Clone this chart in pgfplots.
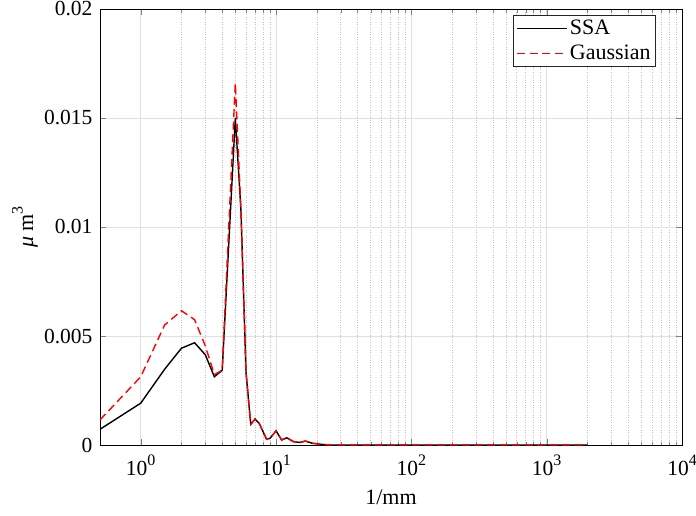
\documentclass[border=0pt]{standalone}
\usepackage{fontspec}
\setmainfont{Liberation Serif}
\newfontfamily\tnr{Liberation Serif}
\usepackage{pgfplots}
\usepackage{pgfplotstable}
\pgfplotsset{compat=1.18}

\newcommand\sexp[1]{\raisebox{0.48em}{\fontsize{16}{16}\selectfont #1}}

\pgfplotstableread{
x ssa gauss
0.5 0.00072 0.00115
1 0.00192 0.00313
1.5 0.00347 0.0055
2 0.00444 0.00616
2.5 0.00469 0.00575
3 0.00414 0.00455
3.5 0.00313 0.00323
4 0.00343 0.00343
5 0.0150 0.0166
5.5 0.0108 0.0108
6 0.00333 0.00333
6.5 0.00095 0.00095
7 0.00119 0.00119
7.5 0.001 0.001
8.5 0.00027 0.00027
9 0.0003 0.0003
10 0.00065 0.00065
11 0.00023 0.00023
12 0.00033 0.00033
13.5 0.00015 0.00015
15 0.00012 0.00012
16.5 0.00018 0.00018
18.5 0.00008 0.00008
21.5 0.00003 0.00003
25 0 0
30 0 0
40 0 0
50 0 0
70 0 0
100 0 0
200 0 0
500 0 0
1000 0 0
2000 0 0
}\datatable

\begin{document}
\begin{tikzpicture}
\begin{axis}[
  name=ax, at={(0,0)}, anchor=south west,
  scale only axis, width=582pt, height=436pt,
  xmode=log, xmin=0.5, xmax=10000,
  ymin=0, ymax=0.02,
  xtick={1,10,100,1000,10000},
  xticklabels={10\sexp{0},10\sexp{1},10\sexp{2},10\sexp{3},10\sexp{4}},
  ytick={0,0.005,0.01,0.015,0.02},
  yticklabels={0,0.005,0.01,0.015,0.02},
  scaled y ticks=false,
  tick align=inside,
  major tick length=6pt, minor tick length=3.5pt,
  xmajorgrids, ymajorgrids, xminorgrids,
  major grid style={color=black!12, line width=0.5pt},
  minor grid style={color=black!25, line width=0.5pt, dotted},
  ticklabel style={font=\tnr\fontsize{21.5}{24}\selectfont, color=black},
  xticklabel style={yshift=-6pt},
  yticklabel style={xshift=-4pt},
  xlabel={1/mm},
  ylabel={\textit{μ} m\sexp{3}},
  label style={font=\tnr\fontsize{22}{25}\selectfont},
  xlabel style={at={(axis description cs:0.5,-0.119)}, anchor=center},
  ylabel style={at={(axis description cs:-0.129,0.5)}, anchor=center},
  legend style={at={(axis description cs:0.955,0.986)}, anchor=north east,
    draw=black!85, font=\tnr\fontsize{22}{25}\selectfont,
    inner sep=3pt, row sep=5pt, cells={anchor=west}},
]
\addplot[draw=black, line width=1.4pt,
  legend image code/.code={\draw[draw=black, line width=1.4pt] (0pt,0pt) -- (50pt,0pt);}]
  table[x=x, y=ssa] {\datatable};
\addlegendentry{SSA}
\addplot[draw=red, line width=1.4pt, dash pattern=on 8pt off 4.5pt,
  legend image code/.code={\draw[draw=red, line width=1.4pt, dash pattern=on 8pt off 4.5pt] (0pt,0pt) -- (50pt,0pt);}]
  table[x=x, y=gauss] {\datatable};
\addlegendentry{Gaussian}
\end{axis}
\pgfresetboundingbox
\useasboundingbox (-100pt,-70pt) rectangle (596pt,445pt);
\end{tikzpicture}
\end{document}
